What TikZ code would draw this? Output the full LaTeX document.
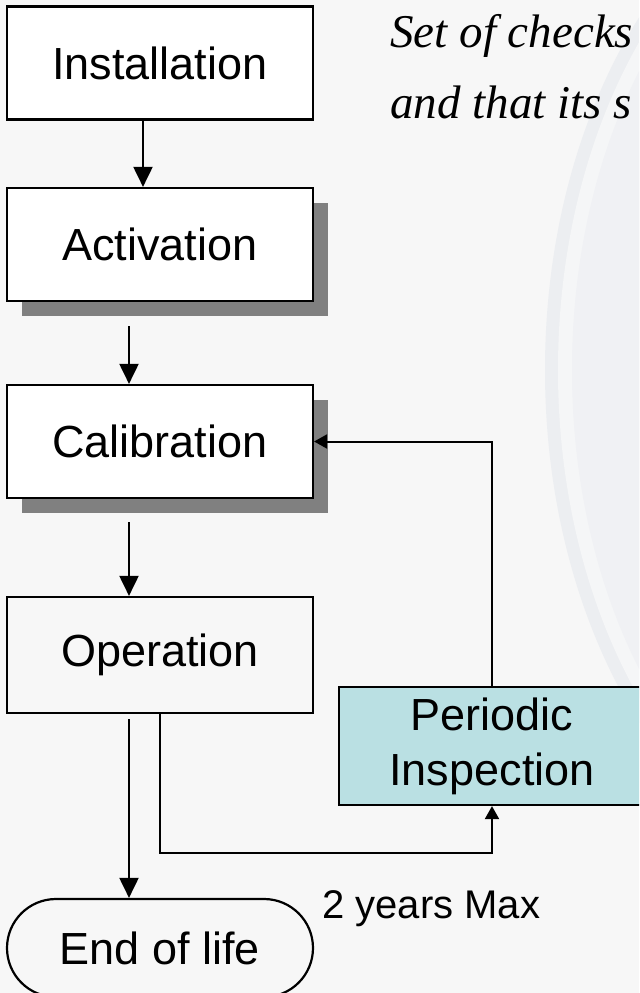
\documentclass[tikz,border=0pt]{standalone}
\usepackage{fontspec}
\setmainfont{Liberation Sans}
\newfontfamily\notefont{Liberation Serif}
\usetikzlibrary{arrows.meta,shadows,shapes.misc}
\definecolor{pagebg}{HTML}{F7F7F7}
\definecolor{arcband}{HTML}{ECEEF1}
\definecolor{arcgap}{HTML}{F5F6F7}
\definecolor{arcinner}{HTML}{F0F1F4}
\definecolor{inspectfill}{HTML}{BAE0E3}
\definecolor{shadowgray}{HTML}{808080}

\tikzset{
	stage/.style={draw, line width=1.1pt, fill=white, minimum width=153pt, minimum height=56.5pt, inner sep=0pt, font=\fontsize{22.5}{26}\selectfont},
	shadowed/.style={drop shadow={shadow xshift=7.5pt, shadow yshift=-7.5pt, fill=shadowgray, opacity=1}},
	flow/.style={line width=1pt, -{Triangle[length=10pt, width=9.5pt]}},
	loopback/.style={line width=1pt, -{Triangle[length=6.5pt, width=7pt]}}
}

\begin{document}
\begin{tikzpicture}[x=0.5pt, y=-0.5pt]
			%%%%% START %%%%%
			
			\useasboundingbox (0, 0) rectangle (639, 993);
			\clip (0, 0) rectangle (639, 993);
			\fill[pagebg] (0, 0) rectangle (639, 993);
			
			\fill[arcband] (900, 370) ellipse [x radius=355, y radius=520];
			\fill[arcgap] (900, 370) ellipse [x radius=342, y radius=507];
			\fill[arcinner] (900, 370) ellipse [x radius=328, y radius=493];
			
			\node[anchor=base west, inner sep=0pt, font=\notefont\itshape\fontsize{23.5}{27}\selectfont] (noteA) at (390, 47) {Set of checks};
			\node[anchor=base west, inner sep=0pt, font=\notefont\itshape\fontsize{23.5}{27}\selectfont] (noteB) at (390, 118) {and that its s};
			
			\node[stage] (inst) at (160, 63) {Installation};
			\node[stage, shadowed] (act) at (160, 244.5) {Activation};
			\node[stage, shadowed] (calib) at (160, 441.5) {Calibration};
			\node[stage, fill=pagebg, minimum height=58pt] (oper) at (160, 655) {Operation};
			\node[stage, fill=inspectfill, minimum height=59pt, align=center, font=\fontsize{22.5}{27.5}\selectfont] (insp) at (492, 746) {Periodic\\Inspection};
			\node[stage, fill=pagebg, rounded rectangle, minimum height=49pt] (eol) at (160, 948) {End of life};
			
			\node[anchor=base west, inner sep=0pt, font=\fontsize{20}{24}\selectfont] (maxnote) at (322, 918) {2 years Max};
			
			\draw[flow] ([xshift=-8.5pt]inst.south) -- ([xshift=-8.5pt]act.north);
			\draw[flow] ([xshift=-15.5pt, yshift=-12pt]act.south) -- ([xshift=-15.5pt]calib.north);
			\draw[flow] ([xshift=-15.5pt, yshift=-11.5pt]calib.south) -- ([xshift=-15.5pt]oper.north);
			\draw[flow] ([xshift=-15.5pt, yshift=-2.5pt]oper.south) -- ([xshift=-15.5pt]eol.north);
			
			\draw[loopback] (oper.south) -- ++(0, 139) -| (insp.south);
			\draw[loopback] (insp.north) |- (calib.east);
			
			%%%%% END %%%%%
\end{tikzpicture}
\end{document}
